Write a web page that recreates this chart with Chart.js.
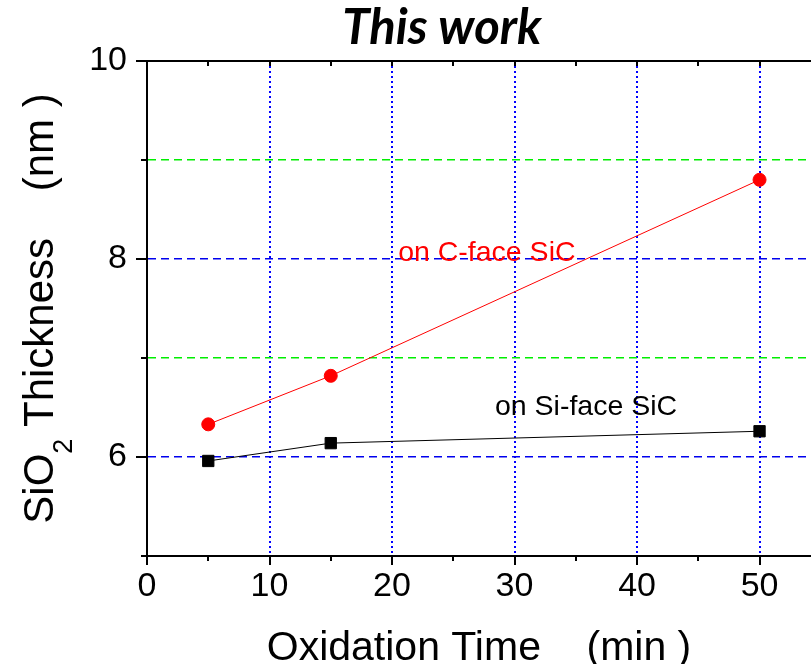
<!DOCTYPE html>
<html>
<head>
<meta charset="utf-8">
<script src="https://cdn.jsdelivr.net/npm/chart.js@4.4.0/dist/chart.umd.min.js"></script>
<style>
  html, body { margin: 0; padding: 0; background: #fff; overflow: hidden; }
  canvas { display: block; }
</style>
</head>
<body>
<canvas id="grafico" width="811" height="664"></canvas>
<script>
// tempo de oxidação (min) e espessura do SiO2 (nm)
const tempos = [5, 15, 50];
const espessuraFaceC = [6.33, 6.82, 8.80];
const espessuraFaceSi = [5.96, 6.14, 6.26];

const rotulosX = [0, 10, 20, 30, 40, 50];
const rotulosY = [6, 8, 10];

const fonte = "'Liberation Sans', Arial, sans-serif";

function pontos(valores) {
    return tempos.map((t, i) => ({ x: t, y: valores[i] }));
}

// eixo de cima, ticks, títulos e os textos dentro do gráfico
const desenhoExtra = {
    id: 'desenhoExtra',
    afterDraw(chart) {
        const ctx = chart.ctx;
        const { left, right, top, bottom } = chart.chartArea;
        const sx = chart.scales.x;
        const sy = chart.scales.y;

        ctx.save();
        ctx.strokeStyle = '#000';
        ctx.lineWidth = 2;
        ctx.beginPath();
        ctx.moveTo(left - 1, top);
        ctx.lineTo(right, top);
        for (let v = 0; v <= 50; v += 5) {
            const px = Math.round(sx.getPixelForValue(v));
            const tam = v % 10 === 0 ? 9 : 5;
            ctx.moveTo(px, bottom);
            ctx.lineTo(px, bottom + tam);
            if (v > 0) {
                ctx.moveTo(px, top);
                ctx.lineTo(px, top + 5);
            }
        }
        for (let v = 5; v <= 10; v++) {
            const py = Math.round(sy.getPixelForValue(v));
            const tam = v % 2 === 0 ? 11 : 6;
            ctx.moveTo(left, py);
            ctx.lineTo(left - tam, py);
        }
        ctx.stroke();

        // título
        ctx.fillStyle = '#000';
        ctx.textAlign = 'center';
        ctx.textBaseline = 'alphabetic';
        ctx.font = "italic bold 49px Lato, 'Open Sans', sans-serif";
        ctx.fillText('This work', 442, 44);

        // eixo x
        ctx.font = '41px ' + fonte;
        ctx.fillText('Oxidation Time    (min )', (left + right) / 2, 660);

        // eixo y, com o 2 subscrito
        ctx.save();
        ctx.translate(53, (top + bottom) / 2);
        ctx.rotate(-Math.PI / 2);
        ctx.textAlign = 'left';
        const fonteGrande = '42px ' + fonte;
        const fontePequena = '27px ' + fonte;
        const partes = ['SiO', '2', ' Thickness    (nm )'];
        ctx.font = fonteGrande;
        const w1 = ctx.measureText(partes[0]).width;
        const w3 = ctx.measureText(partes[2]).width;
        ctx.font = fontePequena;
        const w2 = ctx.measureText(partes[1]).width;
        const x0 = -(w1 + w2 + w3) / 2;
        ctx.font = fonteGrande;
        ctx.fillText(partes[0], x0, 0);
        ctx.font = fontePequena;
        ctx.fillText(partes[1], x0 + w1, 19);
        ctx.font = fonteGrande;
        ctx.fillText(partes[2], x0 + w1 + w2, 0);
        ctx.restore();

        // legendas das curvas
        ctx.textAlign = 'left';
        ctx.font = '28.5px ' + fonte;
        ctx.fillStyle = '#ff0000';
        ctx.fillText('on C-face SiC', sx.getPixelForValue(20.5), sy.getPixelForValue(7.98));
        ctx.fillStyle = '#000';
        ctx.fillText('on Si-face SiC', sx.getPixelForValue(28.4), sy.getPixelForValue(6.42));
        ctx.restore();
    }
};

const corGradeY = (c) => {
    const v = c.tick ? c.tick.value : null;
    if (v === 6 || v === 8) return '#0000ee';
    if (v === 7 || v === 9) return '#00ee00';
    return 'rgba(0,0,0,0)';
};

const corGradeX = (c) => {
    const v = c.tick ? c.tick.value : null;
    if (v !== null && v > 0 && Math.abs(v % 10) < 1e-6) return '#0000ff';
    return 'rgba(0,0,0,0)';
};

new Chart(document.getElementById('grafico'), {
    type: 'scatter',
    data: {
        datasets: [{
            label: 'on C-face SiC',
            data: pontos(espessuraFaceC),
            showLine: true,
            borderColor: '#ff0000',
            backgroundColor: '#ff0000',
            borderWidth: 1,
            pointStyle: 'circle',
            pointRadius: 6.5,
            pointBorderWidth: 1
        }, {
            label: 'on Si-face SiC',
            data: pontos(espessuraFaceSi),
            showLine: true,
            borderColor: '#000',
            backgroundColor: '#000',
            borderWidth: 1,
            pointStyle: 'rect',
            pointRadius: 8,
            pointBorderWidth: 1
        }]
    },
    options: {
        responsive: false,
        animation: false,
        layout: {
            autoPadding: false,
            padding: { top: 61, left: 0, right: 0, bottom: 0 }
        },
        plugins: {
            legend: { display: false },
            title: { display: false },
            tooltip: { enabled: false }
        },
        scales: {
            x: {
                type: 'linear',
                min: 0,
                max: 54.2,
                afterFit(s) {
                    s.height = 108;
                    s.paddingLeft = 0;
                    s.paddingRight = 0;
                },
                ticks: {
                    stepSize: 5,
                    includeBounds: false,
                    autoSkip: false,
                    maxRotation: 0,
                    padding: 10,
                    color: '#000',
                    font: { family: fonte, size: 34 },
                    callback: (v) => rotulosX.includes(v) ? String(v) : ''
                },
                grid: { drawTicks: false, lineWidth: 2, color: corGradeX },
                border: { color: '#000', width: 2, dash: [2, 3] }
            },
            y: {
                min: 5,
                max: 10,
                afterFit(s) { s.width = 147; },
                ticks: {
                    stepSize: 1,
                    autoSkip: false,
                    padding: 20,
                    color: '#000',
                    font: { family: fonte, size: 34 },
                    callback: (v) => rotulosY.includes(v) ? String(v) : ''
                },
                grid: { drawTicks: false, lineWidth: 1.5, color: corGradeY },
                border: { color: '#000', width: 2, dash: [8, 5] }
            }
        }
    },
    plugins: [desenhoExtra]
});
</script>
</body>
</html>
